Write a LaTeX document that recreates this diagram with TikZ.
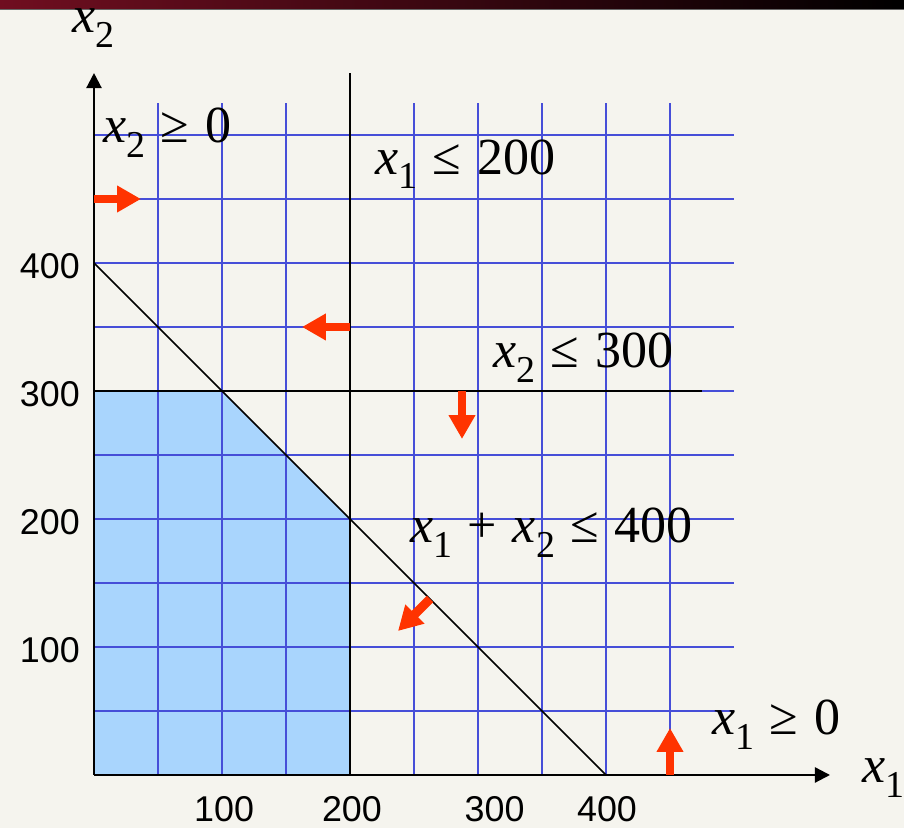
\documentclass[tikz,border=0pt]{standalone}
\usepackage{fontspec}
\setmainfont{Liberation Serif}
\newfontfamily\ticksf{Liberation Sans}
\usetikzlibrary{arrows.meta}
\definecolor{bgcol}{RGB}{245,244,238}
\definecolor{gridblue}{RGB}{70,78,216}
\definecolor{feasible}{RGB}{169,213,253}
\definecolor{arrred}{RGB}{255,51,0}
\definecolor{barred}{RGB}{112,14,32}
% variable with subscript
\newcommand{\xv}[1]{\textit{x}\raisebox{-10.5pt}{\fontsize{27}{27}\selectfont #1}}
\newcommand{\gap}{\hspace{0.3em}}
\tikzset{
  lbl/.style={anchor=base west, inner sep=0pt, font=\fontsize{37}{40}\selectfont},
  ticklbl/.style={inner sep=0pt, font=\ticksf\fontsize{25.5}{27}\selectfont},
  push/.style={arrred, line width=6.3pt, -{Triangle[width=18pt,length=17pt]}},
}
\begin{document}
\begin{tikzpicture}[x=0.032cm, y=0.032cm, >={Triangle[width=10.7pt,length=10.7pt]}]
\useasboundingbox (-73.4375,-41.40625) rectangle (632.8125,605.46875);
% background and title bar
\fill[bgcol] (-73.4375,-41.40625) rectangle (632.8125,605.46875);
\shade[left color=barred, right color=black] (-73.4375,599.2) rectangle (632.8125,605.46875);
\draw[black!60, line width=0.6pt] (-73.4375,598.4) -- (632.8125,598.4);
% feasible region
\fill[feasible] (0,0) -- (0,300) -- (100,300) -- (200,200) -- (200,0) -- cycle;
% grid
\foreach \g in {50,100,...,450}
  \draw[gridblue, line width=1.7pt] (\g,0) -- (\g,525);
\foreach \g in {50,100,...,500}
  \draw[gridblue, line width=1.7pt] (0,\g) -- (500,\g);
% constraints
\draw[line width=1.5pt] (200,0) -- (200,548.4);
\draw[line width=1.5pt] (0,300) -- (475,300);
\draw[line width=1.2pt] (0,400) -- (400,0);
% axes
\draw[->, line width=1.6pt] (0,0) -- (575,0);
\draw[->, line width=1.6pt] (0,0) -- (0,548.4);
% directions
\draw[push] (0,450) -- (36.7,450);
\draw[push] (200,350) -- (162.5,350);
\draw[push] (287.5,300) -- (287.5,262.5);
\draw[push] (262.5,137.5) -- (237.5,112.5);
\draw[push] (450,0) -- (450,36.7);
% labels
\node[lbl] (lx1) at (600,-6.25) {\xv{1}};
\node[lbl] (lx2) at (-17.2,579.7) {\xv{2}};
\node[lbl] (c1) at (7,493.75) {\xv{2}\gap≥\gap0};
\node[lbl] (c2) at (219.5,469.5) {\xv{1}\gap≤\gap200};
\node[lbl] (c3) at (311.7,318) {\xv{2}\gap≤\gap300};
\node[lbl] (c4) at (246.9,181.25) {\xv{1}\gap+\gap\xv{2}\gap≤\gap400};
\node[lbl] (c5) at (482.8,31.25) {\xv{1}\gap≥\gap0};
% ticks
\foreach \v in {100,200,300,400}
  \node[ticklbl, anchor=base east] (ty\v) at (-10.9,\v-12.5) {\v};
\node[ticklbl, anchor=base] (tx100) at (101.6,-36.5) {100};
\node[ticklbl, anchor=base] (tx200) at (201.5,-36.5) {200};
\node[ticklbl, anchor=base] (tx300) at (313,-36.5) {300};
\node[ticklbl, anchor=base] (tx400) at (400.8,-36.5) {400};
\end{tikzpicture}
\end{document}
